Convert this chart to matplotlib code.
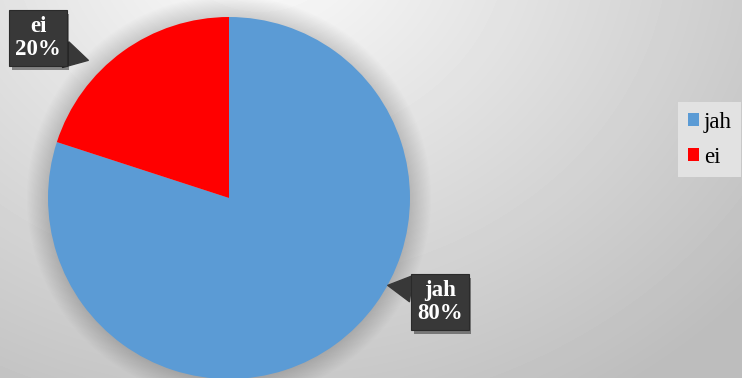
import matplotlib

matplotlib.use("Agg")
import matplotlib.pyplot as plt
import matplotlib.patheffects as pe
import numpy as np

# survey answers
labels = ["jah", "ei"]
shares = [80, 20]
colors = ["#5B9BD5", "#FF0000"]

W, H = 742, 378
fig = plt.figure(figsize=(W / 100, H / 100), dpi=100)

# radial grey background, brightest near the top middle-left
bg = fig.add_axes([0, 0, 1, 1])
yy, xx = np.mgrid[0:H, 0:W]
d = np.hypot((xx - 260) / 620.0, (yy + 60) / 520.0)
shade = np.clip(0.99 - 0.24 * d, 0.74, 0.99)
bg.imshow(shade, cmap="gray", vmin=0, vmax=1, extent=[0, W, H, 0], aspect="auto")
bg.set_xlim(0, W)
bg.set_ylim(H, 0)
bg.axis("off")

# pie axes: circle of radius 181 px centred at (229, 198)
cx, cy, r = 229, 198, 181
ax = fig.add_axes([(cx - r) / W, (H - cy - r) / H, 2 * r / W, 2 * r / H])

wedges, _ = ax.pie(shares, colors=colors, startangle=90, counterclock=False,
                   radius=1, wedgeprops=dict(linewidth=0))
for w in wedges:
    w.set_zorder(2)

# soft glow behind the pie
for k in range(18):
    ax.add_patch(plt.Circle((0, 0), 1 + 0.0065 * (k + 1), color="k",
                            alpha=0.009, lw=0, zorder=0, clip_on=False))

ax.set_xlim(-1, 1)
ax.set_ylim(-1, 1)
ax.set_aspect("auto")
ax.axis("off")

# callout labels: (name, value, pointer tip, pointer base, box centre) in px
box = dict(boxstyle="square,pad=0.25", fc="#383838", ec="#2a2a2a", lw=0.8)
arrow = dict(arrowstyle="wedge,tail_width=1.9,shrink_factor=0.5",
             fc="#383838", ec="#383838", mutation_scale=10)
callouts = [
    ("ei", shares[1], (91, 61), (63, 54), (38, 38)),
    ("jah", shares[0], (385, 285), (414, 289), (440, 302)),
]


def fx(p):
    return (p[0] / W, 1 - p[1] / H)


for name, val, tip, base, pos in callouts:
    fig.add_artist(matplotlib.text.Annotation(
        "", xy=fx(tip), xycoords="figure fraction",
        xytext=fx(base), textcoords="figure fraction",
        arrowprops=arrow, zorder=4))
    t = fig.text(*fx(pos), f"{name}\n{val}%",
                 ha="center", va="center", fontsize=16.5, fontweight="bold",
                 family="Liberation Serif", color="white", linespacing=1.12,
                 bbox=box, zorder=5)
    t.get_bbox_patch().set_path_effects(
        [pe.SimplePatchShadow(offset=(2, -3), alpha=0.45), pe.Normal()])

leg = fig.legend(wedges, labels, loc="upper left",
                 bbox_to_anchor=(678 / W, 1 - 102 / H),
                 prop={"family": "Liberation Serif", "size": 16.5},
                 frameon=True, fancybox=False, handlelength=0.5,
                 handleheight=0.5, handletextpad=0.2, labelspacing=0.62,
                 borderpad=0.42, borderaxespad=0)
leg.get_frame().set_facecolor("#e2e2e2")
leg.get_frame().set_edgecolor("none")
leg.get_frame().set_alpha(1)

fig.savefig("out.png", dpi=100)
